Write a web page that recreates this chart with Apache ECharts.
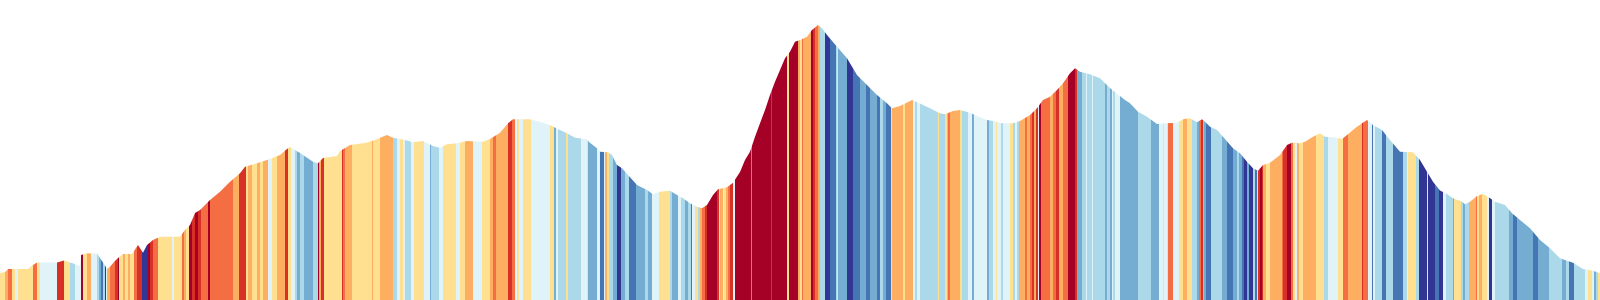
<!DOCTYPE html>
<html>
<head>
<meta charset="utf-8">
<script src="https://cdn.jsdelivr.net/npm/echarts@6/dist/echarts.min.js"></script>
<style>
html,body{margin:0;padding:0;background:#fff;}
#chart{width:1600px;height:300px;}
</style>
</head>
<body>
<div id="chart"></div>
<script>
// Profile (distance along x, height of the silhouette)
const profileX = [0,5,8,28,33,37,57,58,64,72,80,81,87,97,100,104,107,110,114,118,123,132,133,138,143,147,153,160,180,182,185,190,195,200,210,220,230,240,245,257,267,280,287,290,300,313,318,323,337,340,350,365,375,380,387,393,405,413,423,433,440,447,457,467,483,490,500,508,513,530,540,550,560,567,575,587,589,597,600,608,612,617,622,628,637,647,653,660,670,677,683,690,697,702,707,713,718,727,733,740,745,750,755,760,765,770,775,780,785,790,795,800,807,812,818,822,827,837,847,857,867,877,887,892,900,912,920,930,940,945,953,960,970,977,987,993,1002,1013,1020,1030,1037,1043,1050,1057,1063,1070,1075,1080,1090,1100,1110,1120,1125,1130,1138,1147,1157,1167,1177,1183,1190,1197,1202,1205,1210,1217,1223,1233,1240,1247,1253,1258,1263,1270,1280,1287,1292,1300,1305,1313,1320,1325,1333,1342,1347,1355,1362,1367,1373,1382,1390,1400,1413,1420,1427,1433,1440,1447,1453,1462,1465,1470,1477,1483,1488,1495,1505,1512,1520,1530,1540,1550,1560,1573,1583,1593,1600];
const profileH = [27,28,31,31,35,37.5,37.5,39.5,39.5,37,34,45,46.7,46.5,42,36,31,33.3,38,42,46,46,47.3,55,47.3,55,60,63.3,63.3,66,70,75,87,90,100,108.3,118.3,126.7,133.3,136.7,140,145,151,153,147,138.3,136.7,142,144,149,155,157,160,162.3,165,162.3,160,157.7,159,154,152.3,155.7,156.7,159,158.3,161,167.3,176.7,180.7,180.7,178.3,175,170,166.7,162.3,160.7,158,151.7,148.3,147.7,145,135,131.7,125,115,110,105.7,108.3,109.3,105,101.7,96.7,93.3,91.7,95,105,110.7,112.7,117.3,128,140,148.3,163.3,176.7,190,205,218.3,230,241.7,248.3,258.3,260,263.3,270,275,271.7,265,253.3,241.7,225,215,205,196.7,191.7,194,200,196.5,191.7,186.7,185.7,189,190,187.3,184,180,179,176.7,176.7,179,185,191.7,200,203.3,210,216.7,226.7,231.7,228.3,225.7,221.7,212,204,200,196.7,188.3,183.3,176,176.7,177.3,180.7,181.7,177.7,180.7,178.3,173.3,170,163.3,151.7,146.7,138.3,131.7,129.3,135,137.3,145,155,157.3,156.7,158.3,163.3,166.7,163.3,162.7,161,165,171.7,176.7,180,175,170,160,148.3,147.7,140,128.3,118.3,109.5,106,101.7,98.3,95.7,98.3,104,106,103.3,98.3,95,86.7,80,71.7,60,51.7,41.7,37.3,31,29.3,26.7];

// Stripe classes: [end of stripe along x, tone class]
const stripes = [[5,'y'],[8,'o'],[12,'r1'],[15,'y'],[18,'w'],[33,'y'],[37,'r1'],[40,'y'],[57,'w'],[64,'r2'],[70,'y'],[75,'b'],[81,'w'],[83,'r3'],[87,'y'],[91,'o'],[97,'w'],[99,'b'],[101,'B1'],[103,'B2'],[105,'b'],[106,'B3'],[107,'w'],[110,'o'],[115,'r1'],[118,'r2'],[119,'r3'],[123,'y'],[125,'o'],[128,'y'],[130,'o'],[134,'y'],[137,'r1'],[142,'r2'],[148,'B3'],[150,'r3'],[153,'r2'],[158,'r1'],[172,'y'],[174,'w'],[182,'y'],[184,'r1'],[186,'o'],[189,'y'],[192,'r3'],[195,'r2'],[198,'r3'],[201,'r2'],[208,'r1'],[210,'r3'],[233,'r1'],[239,'o'],[246,'r2'],[248,'y'],[252,'o'],[257,'y'],[260,'o'],[263,'y'],[268,'o'],[272,'w'],[277,'y'],[285,'o'],[288,'r2'],[291,'y'],[295,'w'],[297,'b'],[300,'B1'],[304,'b'],[313,'B1'],[318,'b'],[319,'r3'],[321,'o'],[324,'r2'],[342,'y'],[343,'r2'],[345,'r1'],[352,'o'],[372,'y'],[373,'o'],[380,'y'],
[393,'o'],[397,'b'],[400,'w'],[403,'y'],[405,'w'],[411,'b'],[414,'w'],[424,'y'],[430,'w'],[431,'B1'],[439,'b'],[443,'w'],[456,'y'],[460,'w'],[465,'y'],[473,'o'],[482,'w'],[490,'y'],[493,'o'],[496,'r1'],[508,'o'],[512,'r2'],[515,'r1'],[517,'w'],[519,'y'],[523,'w'],[531,'y'],[550,'w'],[554,'y'],[556,'B1'],[558,'w'],[566,'b'],[568,'y'],[581,'b'],[587,'w'],[588,'y'],[597,'B1'],[600,'w'],[604,'B2'],[605,'w'],[607,'o'],[609,'y'],[613,'b'],[617,'B1'],[621,'B3'],[625,'B1'],[629,'b'],[636,'B2'],[645,'B1'],[648,'b'],[652,'B1'],[659,'w'],[670,'y'],[672,'b'],[678,'B1'],[681,'w'],[685,'b'],[688,'B1'],[691,'b'],[692,'B2'],[695,'w'],[698,'y'],[700,'b'],[702,'o'],[705,'r1'],[707,'r2'],[717,'r3'],[719,'r2'],[720,'y'],[723,'o'],[724,'w'],[726,'y'],[728,'o'],[730,'r1'],[733,'r2'],[735,'w'],[751,'r3'],[752,'r1'],[771,'r3'],[772,'r2'],[787,'r3'],[789,'y'],[798,'r3'],[800,'o'],[802,'y'],[803,'r1'],[811,'o'],[813,'r3'],[815,'r2'],[818,'r1'],[820,'o'],[825,'b'],[830,'B3'],[836,'B2'],[837,'b'],[838,'y'],[847,'B1'],[853,'B3'],[860,'B2'],[866,'B1'],[870,'B2'],[877,'B1'],[880,'B2'],[883,'b'],[886,'B1'],[891,'B2'],[892,'y'],[903,'o'],[905,'y'],[913,'o'],[915,'w'],[917,'b'],[920,'w'],
[938,'b'],[939,'y'],[945,'b'],[947,'y'],[948,'o'],[950,'r1'],[960,'o'],[962,'y'],[968,'b'],[972,'w'],[974,'B1'],[987,'w'],[989,'B1'],[993,'b'],[996,'w'],[997,'y'],[1001,'w'],[1003,'b'],[1010,'w'],[1013,'y'],[1015,'b'],[1017,'w'],[1019,'b'],[1025,'o'],[1027,'r1'],[1030,'o'],[1032,'r1'],[1034,'r2'],[1036,'o'],[1038,'r2'],[1039,'w'],[1041,'r3'],[1050,'r1'],[1053,'o'],[1056,'r1'],[1059,'r2'],[1063,'o'],[1068,'r1'],[1075,'r3'],[1077,'r2'],[1082,'B1'],[1086,'b'],[1087,'w'],[1092,'b'],[1093,'w'],[1105,'b'],[1107,'B1'],[1110,'b'],[1112,'B1'],[1113,'w'],[1115,'b'],[1120,'w'],[1138,'B1'],[1151,'b'],[1159,'B1'],[1163,'w'],[1164,'y'],[1167,'w'],[1168,'y'],[1173,'r1'],[1179,'w'],[1183,'y'],[1187,'o'],[1192,'y'],[1197,'b'],[1199,'B1'],[1201,'r1'],[1203,'r2'],[1204,'o'],[1206,'B1'],[1211,'B2'],[1222,'b'],[1227,'B1'],[1233,'B2'],[1237,'B1'],[1239,'b'],[1242,'B1'],[1244,'B2'],[1247,'B3'],[1249,'B1'],[1253,'B3'],[1255,'b'],[1257,'B2'],[1258,'y'],[1260,'r2'],[1262,'r3'],[1263,'r2'],[1266,'o'],[1270,'y'],[1282,'o'],[1283,'r1'],[1287,'r2'],[1291,'r3'],[1293,'r1'],[1295,'y'],[1297,'w'],[1299,'o'],[1303,'y'],[1316,'o'],[1324,'y'],[1328,'b'],[1338,'w'],[1343,'y'],[1348,'r1'],[1362,'o'],[1363,'r2'],[1368,'r1'],[1372,'w'],[1373,'B2'],[1375,'w'],[1382,'b'],[1386,'B2'],[1393,'b'],[1403,'B2'],[1407,'b'],[1408,'w'],[1416,'y'],[1419,'b'],[1427,'B3'],[1428,'y'],[1435,'B3'],[1439,'B2'],[1443,'B3'],[1446,'w'],[1453,'b'],[1454,'B1'],[1461,'y'],[1463,'b'],[1465,'B1'],[1469,'b'],[1476,'o'],[1477,'r1'],[1479,'y'],[1482,'o'],[1487,'y'],[1489,'w'],[1492,'B3'],[1495,'w'],[1509,'b'],[1513,'B1'],[1517,'B2'],[1533,'B1'],[1538,'B2'],[1549,'B1'],[1562,'b'],[1566,'B1'],[1569,'b'],[1574,'B2'],[1585,'b'],[1588,'w'],[1592,'y'],[1594,'w'],[1596,'B1'],[1598,'b'],[1600,'y']];

// Tone palette (RdYlBu)
const palette = {
  B3:'#313695', B2:'#4575b4', B1:'#74add1', b:'#abd9e9', w:'#e0f3f8',
  y:'#fee090', o:'#fdae61', r1:'#f46d43', r2:'#d73027', r3:'#a50026'
};

const pieces = [];
let prev = 0;
stripes.forEach(function (s, i) {
  const p = { gte: prev, color: palette[s[1]] };
  if (i === stripes.length - 1) { p.lte = s[0]; } else { p.lt = s[0]; }
  pieces.push(p);
  prev = s[0];
});

const seriesData = profileX.map(function (x, i) { return [x, profileH[i]]; });

const chart = echarts.init(document.getElementById('chart'), null, { renderer: 'canvas' });
chart.setOption({
  animation: false,
  backgroundColor: '#ffffff',
  grid: { left: 0, right: 0, top: 0, bottom: 0, containLabel: false },
  xAxis: { type: 'value', min: 0, max: 1600, show: false },
  yAxis: { type: 'value', min: 0, max: 300, show: false },
  visualMap: {
    type: 'piecewise',
    show: false,
    dimension: 0,
    seriesIndex: 0,
    pieces: pieces,
    outOfRange: { color: '#ffffff' }
  },
  series: [{
    type: 'line',
    data: seriesData,
    symbol: 'none',
    smooth: false,
    silent: true,
    lineStyle: { width: 0, opacity: 0 },
    areaStyle: { opacity: 1 }
  }]
});
</script>
</body>
</html>
